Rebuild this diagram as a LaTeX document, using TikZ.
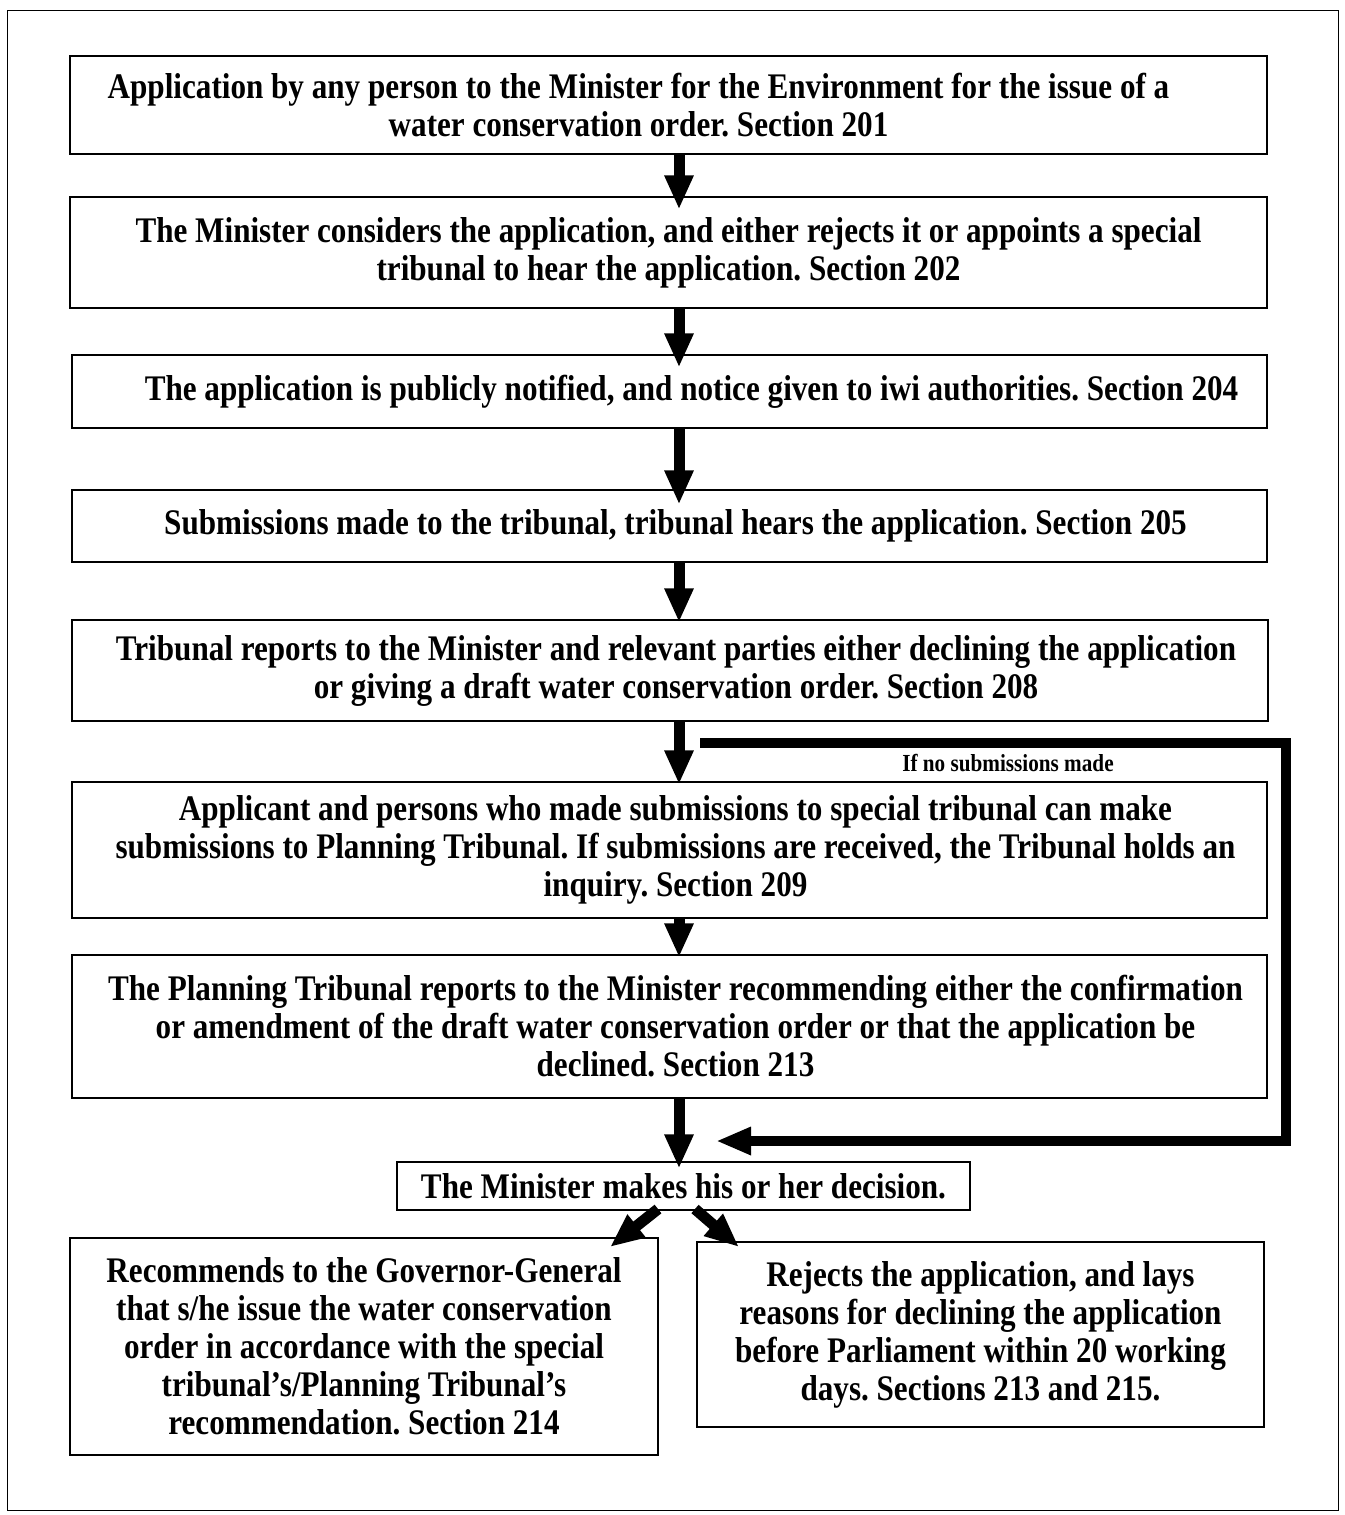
\documentclass[tikz,border=0pt]{standalone}
\usepackage{fontspec}
\setmainfont{Liberation Serif}[FakeStretch=0.865]
\usetikzlibrary{arrows.meta}
\frenchspacing
\newcommand{\lineshiftR}{\hspace*{12pt}}
\begin{document}
\begin{tikzpicture}[x=1pt,y=-1pt,
  box/.style={draw=black, line width=1.1pt, align=center, inner sep=0pt,
    font=\bfseries\fontsize{36}{38}\selectfont},
  flow/.style={line width=11pt, -{Triangle[width=27pt,length=34pt]}},
  bypass/.style={line width=10pt, line join=miter, -{Triangle[width=26pt,length=35pt]}},
  note/.style={font=\bfseries\fontsize{24.5}{26}\selectfont, inner sep=0pt}
]
\useasboundingbox (0,0) rectangle (1344,1515);
% page frame
\draw[line width=1pt] (7,10) rectangle (1338,1510);

% vertical axis of the main flow
\coordinate (ax) at (679,0);

\node[box, minimum width=1197pt, minimum height=98pt] (b1) at (668.5,105)
  {Application by any person to the Minister for the Environment for the issue of a\hspace*{60pt}\\
   water conservation order. Section 201\hspace*{60pt}};
\node[box, minimum width=1197pt, minimum height=111pt] (b2) at (668.5,252.5)
  {The Minister considers the application, and either rejects it or appoints a special\\
   tribunal to hear the application. Section 202};
\node[box, minimum width=1195pt, minimum height=73pt] (b3) at (669.5,391.5)
  {\hspace*{44pt}The application is publicly notified, and notice given to iwi authorities. Section 204};
\node[box, minimum width=1195pt, minimum height=72pt] (b4) at (669.5,526)
  {\hspace*{12pt}Submissions made to the tribunal, tribunal hears the application. Section 205};
\node[box, minimum width=1196pt, minimum height=101pt] (b5) at (670,670.5)
  {\lineshiftR Tribunal reports to the Minister and relevant parties either declining the application\\
   \lineshiftR or giving a draft water conservation order. Section 208};
\node[box, minimum width=1195pt, minimum height=136pt] (b6) at (669.5,850)
  {\lineshiftR Applicant and persons who made submissions to special tribunal can make\\
   \lineshiftR submissions to Planning Tribunal. If submissions are received, the Tribunal holds an\\
   \lineshiftR inquiry. Section 209};
\node[box, minimum width=1195pt, minimum height=143pt] (b7) at (669.5,1026.5)
  {\lineshiftR The Planning Tribunal reports to the Minister recommending either the confirmation\\
   \lineshiftR or amendment of the draft water conservation order or that the application be\\
   \lineshiftR declined. Section 213};
\node[box, minimum width=573pt, minimum height=48pt] (b8) at (683.5,1186)
  {The Minister makes his or her decision.};
\node[box, minimum width=588pt, minimum height=217pt] (b9) at (364,1346.5)
  {Recommends to the Governor-General\\
   that s/he issue the water conservation\\
   order in accordance with the special\\
   tribunal's/Planning Tribunal's\\
   recommendation. Section 214};
\node[box, minimum width=567pt, minimum height=185pt] (b10) at (980.5,1334.5)
  {Rejects the application, and lays\\
   reasons for declining the application\\
   before Parliament within 20 working\\
   days. Sections 213 and 215.};

% main downward flow
\draw[flow] (b1.south -| ax) -- ([yshift=-13pt]b2.north -| ax);
\draw[flow] (b2.south -| ax) -- ([yshift=-13pt]b3.north -| ax);
\draw[flow] (b3.south -| ax) -- ([yshift=-15pt]b4.north -| ax);
\draw[flow] (b4.south -| ax) -- ([yshift=-3pt]b5.north -| ax);
\draw[flow] (b5.south -| ax) -- ([yshift=-3pt]b6.north -| ax);
\draw[flow] (b6.south -| ax) -- ([yshift=-3pt]b7.north -| ax);
\draw[flow] (b7.south -| ax) -- ([yshift=-7pt]b8.north -| ax);

% bypass when no submissions are made
\coordinate (p0) at (700,743);
\coordinate (p1) at (1286,743);
\coordinate (p2) at (1286,1141);
\coordinate (p3) at (716,1141);
\draw[bypass] (p0) -- (p1) -- (p2) -- (p3);
\node[note] (lbl) at (1008,763) {If no submissions made};

% the two outcomes
\coordinate (dl) at (658,1209);
\coordinate (dr) at (695,1209);
\draw[flow] (dl) -- (610,1247);
\draw[flow] (dr) -- (739,1247);
\end{tikzpicture}
\end{document}
